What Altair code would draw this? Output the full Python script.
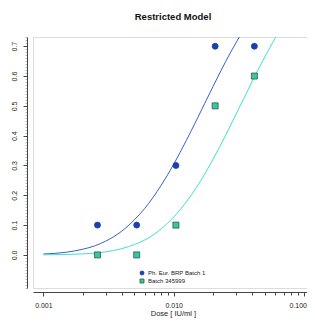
import altair as alt
import pandas as pd

# ---- data ----
series_names = ["Ph. Eur. BRP Batch 1", "Batch 345999"]
doses = [0.0026, 0.0052, 0.0104, 0.0208, 0.0416]
brp_resp = [0.1, 0.1, 0.3, 0.7, 0.7]
batch_resp = [0.0, 0.0, 0.1, 0.5, 0.6]

curve_dose = [0.001, 0.0015, 0.002, 0.0025, 0.003, 0.004, 0.005, 0.006, 0.008,
              0.01, 0.0125, 0.015, 0.02, 0.025, 0.03, 0.035, 0.04, 0.05, 0.06, 0.07]
brp_curve = [0.003, 0.009, 0.019, 0.031, 0.046, 0.080, 0.118, 0.156, 0.233,
             0.304, 0.384, 0.453, 0.564, 0.648, 0.711, 0.760, 0.800, 0.860, 0.900, 0.930]
batch_curve = [0.0004, 0.0014, 0.0034, 0.0064, 0.0103, 0.021, 0.035, 0.050, 0.087,
               0.127, 0.178, 0.227, 0.320, 0.401, 0.471, 0.530, 0.582, 0.664, 0.726, 0.773]

x_major = [0.001, 0.01, 0.1]
x_minor = [0.002, 0.003, 0.004, 0.005, 0.006, 0.007, 0.008, 0.009,
           0.02, 0.03, 0.04, 0.05, 0.06, 0.07, 0.08, 0.09]
y_major = [0.0, 0.1, 0.2, 0.3, 0.4, 0.5, 0.6, 0.7]
y_minor = [round(-0.11 + 0.01 * i, 2) for i in range(85)]

x_domain = [0.000832, 0.10546]
y_domain = [-0.111, 0.731]

pts = pd.DataFrame({
    "dose": doses + doses,
    "resp": brp_resp + batch_resp,
    "series": [series_names[0]] * len(doses) + [series_names[1]] * len(doses),
})
cb = pd.DataFrame({"dose": curve_dose, "resp": brp_curve})
ct = pd.DataFrame({"dose": curve_dose, "resp": batch_curve})

FONT = "Liberation Sans"
AX = "#444444"

xs = alt.Scale(type="log", domain=x_domain, nice=False)
ys = alt.Scale(domain=y_domain, nice=False, zero=False)

minor_x_axis = alt.Axis(values=x_minor, orient="bottom", labels=False, domain=False,
                        tickSize=3, tickColor=AX, offset=4, title=None, grid=False)
minor_y_axis = alt.Axis(values=y_minor, orient="left", labels=False, domain=False,
                        tickSize=2, tickColor="#888888", tickWidth=0.6, offset=6,
                        title=None, grid=False)

line_b = alt.Chart(cb).mark_line(clip=True, color="#3a5fcd", strokeWidth=1,
                                 interpolate="monotone").encode(
    x=alt.X("dose:Q", scale=xs, axis=minor_x_axis),
    y=alt.Y("resp:Q", scale=ys, axis=minor_y_axis),
)
line_t = alt.Chart(ct).mark_line(clip=True, color="#40e0d0", strokeWidth=1,
                                 interpolate="monotone").encode(
    x=alt.X("dose:Q", scale=xs, axis=None),
    y=alt.Y("resp:Q", scale=ys, axis=None),
)

leg_scale_fill = alt.Scale(domain=series_names, range=["#1b3fae", "#3cc4a0"])
leg_scale_stroke = alt.Scale(domain=series_names, range=["#1b3fae", "#1f5f4f"])
leg_scale_shape = alt.Scale(domain=series_names, range=["circle", "square"])

legend = alt.Legend(orient="none", legendX=106, legendY=233, title=None,
                    labelFontSize=6, labelFont=FONT, labelColor="#222222",
                    symbolSize=16, labelOffset=3, rowPadding=0, padding=0,
                    symbolStrokeWidth=0.8)

points = alt.Chart(pts).mark_point(filled=True, size=36, strokeWidth=0.8, opacity=1).encode(
    x=alt.X("dose:Q", scale=xs,
            axis=alt.Axis(values=x_major, format=".3f", orient="bottom", offset=4,
                          tickSize=4, tickColor=AX, domainColor=AX, labelPadding=5,
                          labelFontSize=7, labelFont=FONT, labelColor="#222222",
                          labelAlign={"condition": {"test": "datum.value > 0.05", "value": "right"},
                                      "value": "center"},
                          labelOffset={"condition": {"test": "datum.value > 0.05", "value": 2.5},
                                       "value": 0},
                          title="Dose [ IU/ml ]", titleFontSize=7.5, titleFont=FONT,
                          titleFontWeight="normal", titleColor="#222222",
                          titlePadding=1, titleX=140, grid=False, labelFlush=False)),
    y=alt.Y("resp:Q", scale=ys,
            axis=alt.Axis(values=y_major, format=".1f", orient="left", offset=6,
                          tickSize=4, tickColor=AX, domainColor=AX, labelAngle=-90,
                          labelAlign="center", labelBaseline="bottom", labelPadding=6,
                          labelFontSize=7, labelFont=FONT, labelColor="#222222",
                          title=None, grid=False, labelFlush=False)),
    fill=alt.Fill("series:N", scale=leg_scale_fill, legend=legend, sort=series_names),
    stroke=alt.Stroke("series:N", scale=leg_scale_stroke, legend=legend, sort=series_names),
    shape=alt.Shape("series:N", scale=leg_scale_shape, legend=legend, sort=series_names),
)

chart = alt.layer(line_b, line_t, points).resolve_axis(
    x="independent", y="independent"
).properties(
    width=274, height=251,
    title=alt.TitleParams("Restricted Model", font=FONT, fontSize=9.5, fontWeight="bold",
                          color="#111111", anchor="middle", offset=15, dx=3),
    autosize=alt.AutoSizeParams(type="none"),
    padding={"left": 25, "top": 29, "right": 0, "bottom": 31},
).configure_view(stroke=AX, strokeWidth=1).configure(background="white")

chart.save("out.html", embed_options={"renderer": "svg", "actions": False})
